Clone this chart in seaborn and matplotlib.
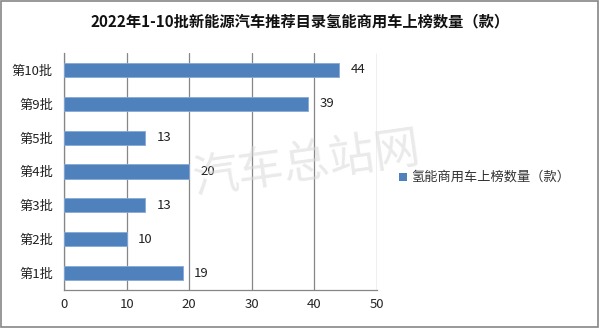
import matplotlib
matplotlib.use("Agg")
import matplotlib.pyplot as plt
import seaborn as sns
import pandas as pd
import numpy as np

categories = ["第10批", "第9批", "第5批", "第4批", "第3批", "第2批", "第1批"]
values = [44, 39, 13, 20, 13, 10, 19]
series_name = "氢能商用车上榜数量（款）"
title = "2022年1-10批新能源汽车推荐目录氢能商用车上榜数量（款）"
x_ticks = [0, 10, 20, 30, 40, 50]

sns.set_style("white")
plt.rcParams['font.family'] = ['Noto Sans CJK SC', 'DejaVu Sans']

df = pd.DataFrame({"批次": categories, "数量": values, "系列": series_name})

fig = plt.figure(figsize=(6.0, 3.28), dpi=100)
ax = fig.add_axes([0.1067, 0.1159, 0.5217, 0.7226])

color = "#4F81BD"
sns.barplot(data=df, y="批次", x="数量", hue="系列", palette=[color], orient="h",
            width=0.42, ax=ax, edgecolor="#86A9D6", linewidth=0.6, zorder=3,
            saturation=1, legend=False)

ax.set_xlim(0, 50)
ax.set_ylim(len(categories) - 0.5, -0.5)
ax.set_xticks(x_ticks)
ax.set_xticklabels([str(t) for t in x_ticks], fontsize=9.5)
ax.set_xlabel("")
ax.set_ylabel("")
ax.tick_params(axis='y', labelsize=9.5, length=0, pad=8)
ax.tick_params(axis='x', length=0, pad=6)
for lbl in ax.get_yticklabels():
    lbl.set_color("#222222")

# grid lines
ax.grid(axis='x', color="#868686", linewidth=0.9, zorder=0)
ax.grid(axis='y', visible=False)
for s in ["top", "right"]:
    ax.spines[s].set_visible(False)
for s in ["left", "bottom"]:
    ax.spines[s].set_color("#868686")
    ax.spines[s].set_linewidth(0.9)

# minor ticks at band boundaries on y axis
ax.set_yticks(np.arange(-0.5, len(categories), 1.0), minor=True)
ax.tick_params(axis='y', which='minor', length=4, color="#868686", direction='out')
ax.set_xticks(x_ticks, minor=True)
ax.tick_params(axis='x', which='minor', length=4, color="#868686", direction='out')

# value labels
for cont in ax.containers:
    ax.bar_label(cont, labels=[str(v) for v in values], padding=8, fontsize=9.5, color="#222222")

# legend
fig.patches.append(plt.Rectangle((0.665, 0.448), 0.014, 0.026, transform=fig.transFigure,
                                 facecolor=color, edgecolor="none"))
fig.text(0.685, 0.461, series_name, fontsize=9.5, va='center', ha='left', color="#333333")

# title
fig.text(0.5, 0.935, title, fontsize=11, fontweight='bold', ha='center', va='center', color="#111111")

# watermark
fig.text(0.51, 0.5, "汽车总站网", fontsize=33, color="#d9d9d9", alpha=0.55, ha='center', va='center',
         rotation=8, zorder=10)

# figure border
fig.patches.append(plt.Rectangle((0.002, 0.003), 0.995, 0.993, transform=fig.transFigure,
                                 facecolor="none", edgecolor="#868686", linewidth=1.2))

fig.savefig("out.png", dpi=100)
